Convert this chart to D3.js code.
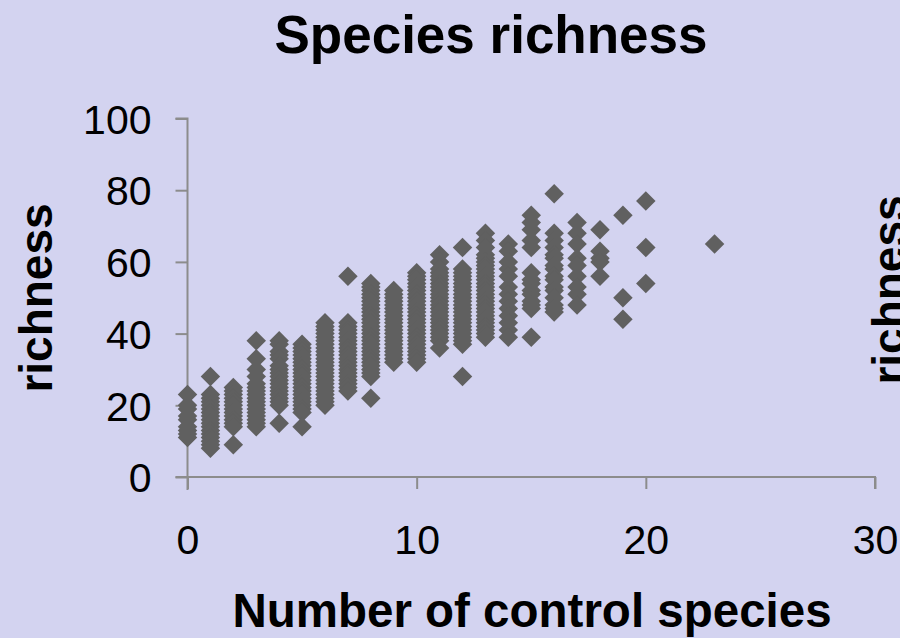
<!DOCTYPE html>
<html>
<head>
<meta charset="utf-8">
<script src="https://cdn.jsdelivr.net/npm/d3@7"></script>
<style>
  html, body { margin: 0; padding: 0; background: #d3d3f0; }
  svg { display: block; }
</style>
</head>
<body>
<svg id="chart" width="900" height="638"></svg>
<script>
// ---- data: richness values observed for each number of control species ----
const controlSpecies = [0,1,2,3,4,5,6,7,8,9,10,11,12,13,14,15,16,17,18,19,20,23];
const richness0  = [23,20,19,17,16,14,13,12,11];
const richness1  = [28,23,22,21,20,19,18,17,16,15,14,13,12,11,10,9,8];
const richness2  = [25,24,23,22,21,20,19,18,17,16,15,14,9];
const richness3  = [38,33,30,28,26,25,24,23,22,21,20,19,18,17,16,15,14];
const richness4  = [38,37,35,34,33,31,30,29,28,27,26,25,24,23,22,21,20,15];
const richness5  = [37,36,35,34,33,32,31,30,29,28,27,26,25,24,23,22,21,20,19,18,14];
const richness6  = [43,42,41,40,39,38,37,36,35,34,33,32,31,30,29,28,27,26,25,24,23,22,21,20];
const richness7  = [56,43,42,41,40,39,38,37,36,35,34,33,32,31,30,29,28,27,26,25,24];
const richness8  = [54,53,52,51,50,49,48,47,46,45,44,43,42,41,40,39,38,37,36,35,34,33,32,31,30,29,28,22];
const richness9  = [52,51,50,49,48,47,46,45,44,43,42,41,40,39,38,37,36,35,34,33,32];
const richness10 = [57,56,55,54,53,52,51,50,49,48,47,46,45,44,43,42,41,40,39,38,37,36,35,34,33,32];
const richness11 = [62,60,58,57,56,55,54,53,52,51,50,49,48,47,46,45,44,43,42,41,40,39,38,36];
const richness12 = [64,58,57,56,55,54,53,52,51,50,49,48,47,46,45,44,43,42,41,40,39,38,37,28];
const richness13 = [68,66,64,62,61,60,59,58,57,56,55,54,53,52,51,50,49,48,47,46,45,44,43,42,41,40,39];
const richness14 = [65,63,60,58,56,53,51,49,47,45,43,41,39];
const richness15 = [73,71,69,66,64,57,55,54,52,51,49,48,47,39];
const richness16 = [79,68,66,64,62,61,59,58,56,55,53,52,50,48,47,46];
const richness17 = [71,68,65,61,59,56,53,51,48];
const richness18 = [69,63,61,60,56];
const richness19 = [73,50,44];
const richness20 = [77,64,54];
const richness23 = [65];
const richnessByColumn = [richness0,richness1,richness2,richness3,richness4,richness5,richness6,
  richness7,richness8,richness9,richness10,richness11,richness12,richness13,richness14,richness15,
  richness16,richness17,richness18,richness19,richness20,richness23];

const xTicks = [0, 10, 20, 30];
const yTicks = [0, 20, 40, 60, 80, 100];
const titleText = "Species richness";
const xTitle = "Number of control species";
const yTitle = "richness";

// ---- build points ----
const points = [];
controlSpecies.forEach((c, i) => richnessByColumn[i].forEach(r => points.push({x: c, y: r})));

// ---- drawing ----
const svg = d3.select("#chart");
const font = "'Liberation Sans', Arial, sans-serif";
const axisColor = "#8c8c8c";

const x = d3.scaleLinear().domain([0, 30]).range([187.5, 875]);
const y = d3.scaleLinear().domain([0, 100]).range([477, 118.5]);

svg.append("rect").attr("width", 900).attr("height", 638).attr("fill", "#d3d3f0");

// y axis
const yAxis = svg.append("g").attr("transform", `translate(${x(0)},0)`)
  .call(d3.axisLeft(y).tickValues(yTicks).tickSize(12).tickPadding(24).tickFormat(d3.format("d")));
yAxis.select(".domain").attr("stroke", axisColor).attr("stroke-width", 2)
  .attr("d", `M-12,${y(100)}H0V${y(0) + 13}`);
yAxis.selectAll(".tick line").attr("stroke", axisColor).attr("stroke-width", 2);
yAxis.selectAll(".tick text").attr("fill", "#000").style("font-family", font).style("font-size", "41px")
  .attr("dy", "0.36em");

// x axis
const xAxis = svg.append("g").attr("transform", `translate(0,${y(0)})`)
  .call(d3.axisBottom(x).tickValues(xTicks).tickSize(12).tickPadding(36).tickFormat(d3.format("d")));
xAxis.select(".domain").attr("stroke", axisColor).attr("stroke-width", 2)
  .attr("d", `M${x(0) - 12},0H${x(30)}V12`);
xAxis.selectAll(".tick line").attr("stroke", axisColor).attr("stroke-width", 2);
xAxis.selectAll(".tick text").attr("fill", "#000").style("font-family", font).style("font-size", "41px");

// points (diamonds)
const diamond = d3.symbol().type(d3.symbolSquare).size(190);
svg.append("g").selectAll("path").data(points).join("path")
  .attr("d", diamond)
  .attr("transform", d => `translate(${x(d.x)},${y(d.y)}) rotate(45)`)
  .attr("fill", "#606060");

// title
svg.append("text").attr("x", 491).attr("y", 53).attr("text-anchor", "middle")
  .style("font-family", font).style("font-size", "53px").style("font-weight", "bold")
  .text(titleText);

// x title
svg.append("text").attr("x", 532).attr("y", 627).attr("text-anchor", "middle")
  .style("font-family", font).style("font-size", "47.5px").style("font-weight", "bold")
  .text(xTitle);

// y title (left)
svg.append("text").attr("transform", "translate(52,298) rotate(-90)").attr("text-anchor", "middle")
  .style("font-family", font).style("font-size", "46px").style("font-weight", "bold")
  .text(yTitle);

// y title of the neighbouring chart (cut at the right edge)
svg.append("text").attr("transform", "translate(905,290) rotate(-90)").attr("text-anchor", "middle")
  .style("font-family", font).style("font-size", "46px").style("font-weight", "bold")
  .text(yTitle);
</script>
</body>
</html>
